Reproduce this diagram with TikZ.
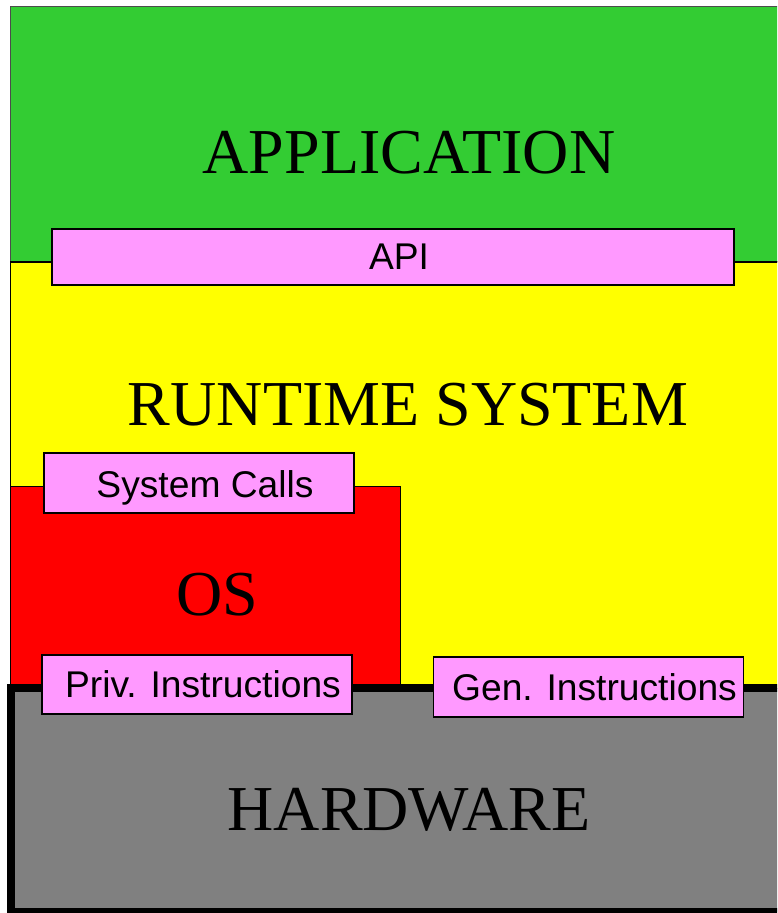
\documentclass[tikz,border=0pt]{standalone}
\usepackage{fontspec}
\setmainfont{Liberation Serif}
\newfontfamily\labelfont{Liberation Sans}
\definecolor{appgreen}{RGB}{51,204,51}
\definecolor{rtyellow}{RGB}{255,255,0}
\definecolor{osred}{RGB}{255,0,0}
\definecolor{ifpink}{RGB}{255,153,255}
\definecolor{hwgray}{RGB}{128,128,128}
\begin{document}
\begin{tikzpicture}
  [x=0.5pt,y=-0.5pt,
   layer/.style={font=\fontsize{32}{36}\selectfont,anchor=base,inner sep=0pt},
   iface/.style={draw,line width=0.6pt,fill=ifpink,inner sep=0pt,
     font=\labelfont\fontsize{18.6}{20}\selectfont,
     execute at begin node=\hspace*{6pt}}]
  \useasboundingbox (0,0) rectangle (777,913);
  \begin{scope}
  \clip (0,0) rectangle (777,913);
  \filldraw[fill=appgreen,draw=black!70,line width=0.5pt] (10,7) rectangle (800,262);
  \filldraw[fill=rtyellow,line width=0.5pt] (10,262) rectangle (800,688);
  \draw[line width=1pt] (10,262) -- (800,262);
  \filldraw[fill=osred,line width=0.5pt] (10,486) rectangle (400,688);
  \filldraw[fill=hwgray,line width=4pt] (11,688) rectangle (800,912);
  \end{scope}

  \node[layer] (app) at (409,174) {APPLICATION};
  \node[layer] (rts) at (408,425) {RUNTIME SYSTEM};
  \node[layer] (os)  at (217,615) {OS};
  \node[layer] (hw)  at (409,830) {HARDWARE};

  \node[iface,minimum width=341pt,minimum height=28pt] (api) at (393,257) {API};
  \node[iface,minimum width=155pt,minimum height=30pt,text height=14pt,text depth=0pt] (sys) at (199,483) {System Calls};
  \node[iface,minimum width=155pt,minimum height=29.5pt] (priv) at (197,684.5) {Priv. Instructions};
  \node[iface,minimum width=155pt,minimum height=30pt] (gen) at (588.5,687) {Gen. Instructions};

\end{tikzpicture}
\end{document}
